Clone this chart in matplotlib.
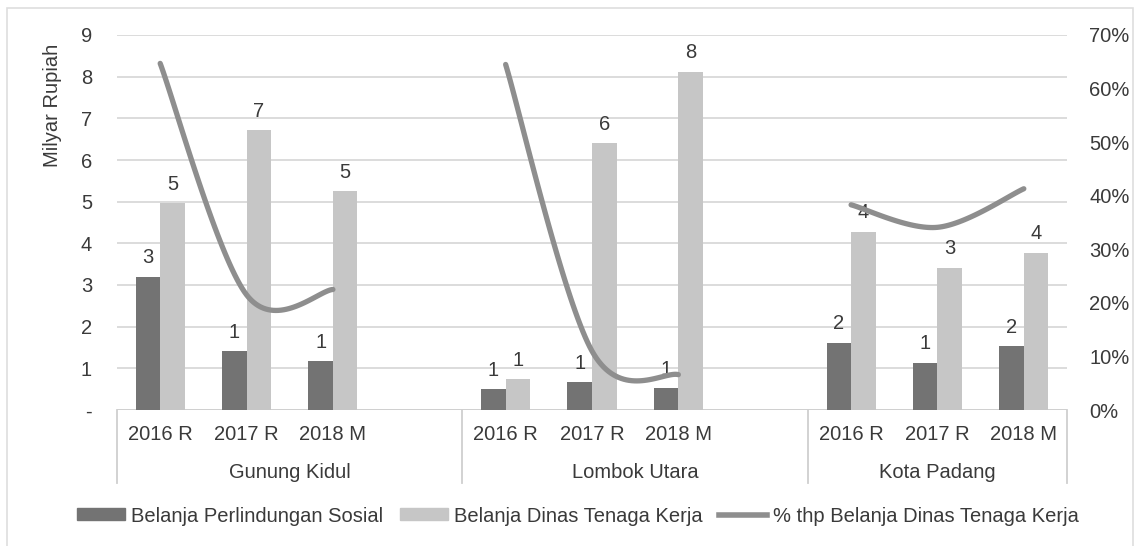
import numpy as np
import matplotlib.pyplot as plt
from matplotlib.patches import Rectangle, Patch
from matplotlib.lines import Line2D
from matplotlib.ticker import PercentFormatter

plt.rcParams['font.family'] = ['Liberation Sans', 'DejaVu Sans']

# data (empty slot between regions kept as NaN)
groups = ["Gunung Kidul", "Lombok Utara", "Kota Padang"]
group_slots = [4, 4, 3]
cat_labels = ["2016 R", "2017 R", "2018 M", "",
              "2016 R", "2017 R", "2018 M", "",
              "2016 R", "2017 R", "2018 M"]
perlindungan = [3.20, 1.42, 1.18, np.nan,
                0.51, 0.67, 0.52, np.nan,
                1.62, 1.14, 1.54]
dinas_naker = [4.97, 6.72, 5.26, np.nan,
               0.74, 6.40, 8.12, np.nan,
               4.28, 3.42, 3.78]
pct_naker = [0.647, 0.215, 0.225, np.nan,
             0.645, 0.110, 0.066, np.nan,
             0.383, 0.341, 0.413]

DARK = '#737373'
LIGHT = '#c6c6c6'
LINE = '#8e8e8e'
TXT = '#3a3a3a'
GRID = '#d9d9d9'
FS = 14.5


def smooth(xs, ys, n=40):
    """Excel-like smoothed line: cubic bezier with catmull-rom control points."""
    pts = np.column_stack([xs, ys])
    out = []
    for i in range(len(pts) - 1):
        p0 = pts[max(i - 1, 0)]
        p1 = pts[i]
        p2 = pts[i + 1]
        p3 = pts[min(i + 2, len(pts) - 1)]
        c1 = p1 + (p2 - p0) / 6
        c2 = p2 - (p3 - p1) / 6
        t = np.linspace(0, 1, n)[:, None]
        seg = ((1 - t) ** 3) * p1 + 3 * ((1 - t) ** 2) * t * c1 + 3 * (1 - t) * t ** 2 * c2 + t ** 3 * p2
        out.append(seg)
    out = np.vstack(out)
    return out[:, 0], out[:, 1]


W, H = 1134, 546
fig = plt.figure(figsize=(W / 100, H / 100), dpi=100)
fig.patches.append(Rectangle((7 / W, -0.05), (1133 - 7) / W, 1.05 - 8 / H,
                             transform=fig.transFigure, fill=False,
                             edgecolor='#dedede', linewidth=1.2))

ax = fig.add_axes([117 / W, (H - 410) / H, (1067 - 117) / W, (410 - 35) / H])
x = np.arange(len(cat_labels))
bw = 0.284

ax.bar(x - bw / 2, perlindungan, bw, color=DARK, zorder=3)
ax.bar(x + bw / 2, dinas_naker, bw, color=LIGHT, zorder=3)

for xi, a, b in zip(x, perlindungan, dinas_naker):
    if np.isnan(a):
        continue
    for xx, v in ((xi - bw / 2, a), (xi + bw / 2, b)):
        ax.annotate(f"{v:.0f}", (xx, v), xytext=(0, 9.5), textcoords='offset points',
                    ha='center', va='baseline', fontsize=FS, color=TXT, zorder=6)

ax.set_xlim(-0.5, len(cat_labels) - 0.5)
ax.set_ylim(0, 9)
ax.set_yticks(range(10))
ax.set_yticklabels(['-'] + [str(i) for i in range(1, 10)])
ax.tick_params(axis='y', length=0, pad=18, labelsize=FS, labelcolor=TXT)
ax.set_xticks([])
ax.grid(axis='y', color=GRID, linewidth=1.3, zorder=0)
ax.set_axisbelow(True)
for s in ax.spines.values():
    s.set_visible(False)
ax.axhline(0, color='#cfcfcf', linewidth=1.3, zorder=2)

ax.text((52 - 117) / 950, (410 - 105) / 375, "Milyar Rupiah", transform=ax.transAxes,
        rotation=90, ha='center', va='center', fontsize=FS, color=TXT)

# category and group labels under the axis
trans = ax.get_xaxis_transform()
for xi, lab in zip(x, cat_labels):
    ax.text(xi, -25 / 375, lab, transform=trans, ha='center', va='center',
            fontsize=FS, color=TXT, clip_on=False)
start = -0.5
bounds = [start]
for g, nslot in zip(groups, group_slots):
    end = start + nslot
    ax.text((start + end) / 2, -62 / 375, g, transform=trans, ha='center', va='center',
            fontsize=FS, color=TXT, clip_on=False)
    bounds.append(end)
    start = end
for b in bounds:
    ax.plot([b, b], [0, -73 / 375], transform=trans, color='#cfcfcf',
            linewidth=1.3, clip_on=False)

# percentage line on the right axis, one smoothed piece per region
ax2 = ax.twinx()
ax2.set_ylim(0, 0.70)
ax2.set_yticks(np.arange(0, 0.71, 0.1))
ax2.yaxis.set_major_formatter(PercentFormatter(1.0, decimals=0))
ax2.tick_params(axis='y', length=0, pad=16, labelsize=FS, labelcolor=TXT)
for s in ax2.spines.values():
    s.set_visible(False)
pct = np.array(pct_naker)
start = 0
for nslot in group_slots:
    idx = np.arange(start, start + nslot)
    idx = idx[~np.isnan(pct[idx])]
    sx, sy = smooth(x[idx].astype(float), pct[idx])
    ax2.plot(sx, sy, color=LINE, linewidth=3.8, solid_capstyle='round', zorder=5)
    start += nslot

handles = [Patch(color=DARK), Patch(color=LIGHT), Line2D([], [], color=LINE, linewidth=4)]
labels = ["Belanja Perlindungan Sosial", "Belanja Dinas Tenaga Kerja",
          "% thp Belanja Dinas Tenaga Kerja"]
fig.legend(handles, labels, loc='center', bbox_to_anchor=(578 / W, (H - 516) / H),
           ncol=3, frameon=False, fontsize=FS, labelcolor=TXT,
           handlelength=2.4, handleheight=0.55, handletextpad=0.3, columnspacing=0.8)

fig.savefig('out.png', dpi=100)
